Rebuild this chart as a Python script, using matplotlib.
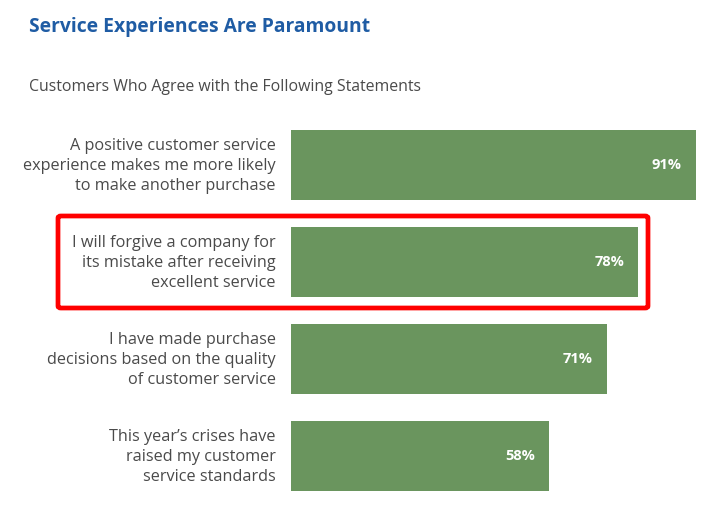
import matplotlib
matplotlib.use("Agg")
import matplotlib.pyplot as plt
import matplotlib.transforms as mtransforms
from matplotlib.patches import FancyBboxPatch

statements = [
    "A positive customer service\nexperience makes me more likely\nto make another purchase",
    "I will forgive a company for\nits mistake after receiving\nexcellent service",
    "I have made purchase\ndecisions based on the quality\nof customer service",
    "This year\u2019s crises have\nraised my customer\nservice standards",
]
values = [91, 78, 71, 58]
value_labels = ["91%", "78%", "71%", "58%"]
title = "Service Experiences Are Paramount"
subtitle = "Customers Who Agree with the Following Statements"

W, H = 719, 508
fig = plt.figure(figsize=(W / 100, H / 100), dpi=100)
plt.rcParams['font.family'] = ['Open Sans', 'DejaVu Sans']

# axes in pixel layout
ax_left, ax_right = 291, 719
ax_top, ax_bottom = 116.5, 504.5
ax = fig.add_axes([ax_left / W, 1 - ax_bottom / H, (ax_right - ax_left) / W, (ax_bottom - ax_top) / H])

bar_color = "#6a955e"
ypos = list(range(len(values)))
ax.barh(ypos, values, height=0.72, color=bar_color, left=0)
ax.set_xlim(0, (ax_right - ax_left) / 4.45)
ax.set_ylim(len(values) - 0.5, -0.5)

for y, v, lab in zip(ypos, values, value_labels):
    ax.annotate(lab, xy=(v, y), xytext=(-14, 0), textcoords="offset pixels",
                ha="right", va="center", color="white", fontsize=10.5, fontweight="bold")

ax.set_yticks(ypos)
ax.set_yticklabels(statements, fontsize=11.7, color="#4a4a4a", linespacing=1.36)
ax.tick_params(axis="y", length=0, pad=11)
shift = mtransforms.ScaledTranslation(0, 3 / 100, fig.dpi_scale_trans)
for lbl in ax.get_yticklabels():
    lbl.set_transform(lbl.get_transform() + shift)
ax.set_xticks([])
for s in ax.spines.values():
    s.set_visible(False)

fig.text(29 / W, 1 - 27 / H, title, fontsize=13.9, fontweight="bold", color="#1f5ca4",
         ha="left", va="center")
fig.text(29 / W, 1 - 87 / H, subtitle, fontsize=11.45, color="#4a4a4a", ha="left", va="center")

# red highlight box
bx0, by0, bx1, by1 = 58, 216, 648, 308
box = FancyBboxPatch((bx0 / W, 1 - by1 / H), (bx1 - bx0) / W, (by1 - by0) / H,
                     boxstyle="round,pad=0,rounding_size=0.004", transform=fig.transFigure,
                     fill=False, edgecolor="#ff0000", linewidth=3.4, zorder=10)
fig.patches.append(box)

fig.savefig("out.png", dpi=100)
